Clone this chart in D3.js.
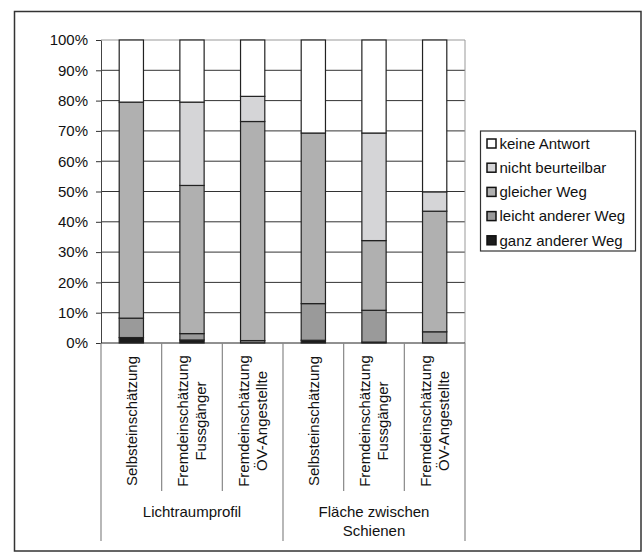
<!DOCTYPE html>
<html>
<head>
<meta charset="utf-8">
<script src="https://cdn.jsdelivr.net/npm/d3@7"></script>
<style>
  html, body { margin: 0; padding: 0; background: #fff; }
  text { font-family: "Liberation Sans", Arial, sans-serif; fill: #111; }
</style>
</head>
<body>
<div id="chart"></div>
<script>
// Chart data (percent of answers).
const categories = [
  "Selbsteinschätzung",
  "Fremdeinschätzung\nFussgänger",
  "Fremdeinschätzung\nÖV-Angestellte",
  "Selbsteinschätzung",
  "Fremdeinschätzung\nFussgänger",
  "Fremdeinschätzung\nÖV-Angestellte"
];
const groups = ["Lichtraumprofil", "Fläche zwischen\nSchienen"];
const groupSize = 3;

const seriesNames = ["ganz anderer Weg", "leicht anderer Weg", "gleicher Weg", "nicht beurteilbar", "keine Antwort"];
const ganzAnders = [1.8, 1.0, 0.0, 0.9, 0.3, 0.0];
const leichtAnders = [6.4, 2.1, 0.8, 12.1, 10.5, 3.7];
const gleicherWeg = [71.3, 48.9, 72.3, 56.3, 23.0, 39.8];
const nichtBeurteilbar = [0.0, 27.5, 8.3, 0.0, 35.5, 6.4];
const keineAntwort = [20.5, 20.5, 18.6, 30.7, 30.7, 50.1];
const yTicks = [0, 10, 20, 30, 40, 50, 60, 70, 80, 90, 100];

const seriesColors = ["#1c1c1c", "#9a9a9a", "#b0b0b0", "#d5d5d7", "#ffffff"];

// Dimensions
const width = 644;
const height = 552;
const marginLeft = 101;
const marginTop = 40;
const plotRight = 465;
const plotBottom = 343;

// build table for d3.stack
const values = [ganzAnders, leichtAnders, gleicherWeg, nichtBeurteilbar, keineAntwort];
const table = categories.map((c, i) => {
  const row = { idx: i };
  seriesNames.forEach((s, j) => (row[s] = values[j][i]));
  return row;
});
const stacked = d3.stack().keys(seriesNames)(table);

const x = d3
  .scaleBand()
  .domain(d3.range(categories.length))
  .range([marginLeft, plotRight])
  .paddingInner(0.6)
  .paddingOuter(0.3);

const y = d3.scaleLinear().domain([0, 100]).range([plotBottom, marginTop]);

const color = d3.scaleOrdinal().domain(seriesNames).range(seriesColors);

const svg = d3
  .select("#chart")
  .append("svg")
  .attr("width", width)
  .attr("height", height);

// outer frame
svg
  .append("rect")
  .attr("x", 14.5)
  .attr("y", 11.5)
  .attr("width", 626.5)
  .attr("height", 539.5)
  .attr("fill", "none")
  .attr("stroke", "#333")
  .attr("stroke-width", 1.5);

// horizontal grid lines
svg
  .append("g")
  .selectAll("line")
  .data(yTicks.filter((t) => t > 0))
  .join("line")
  .attr("x1", marginLeft)
  .attr("x2", plotRight)
  .attr("y1", (d) => y(d))
  .attr("y2", (d) => y(d))
  .attr("stroke", (d) => (d === 100 ? "#999" : "#333"))
  .attr("stroke-width", 1);

// right border of plot area
svg
  .append("line")
  .attr("x1", plotRight)
  .attr("x2", plotRight)
  .attr("y1", marginTop)
  .attr("y2", plotBottom)
  .attr("stroke", "#999");

// stacked bars
svg
  .append("g")
  .selectAll("g")
  .data(stacked)
  .join("g")
  .attr("fill", (d) => color(d.key))
  .selectAll("rect")
  .data((d) => d.filter((v) => v[1] - v[0] > 0))
  .join("rect")
  .attr("x", (d) => x(d.data.idx))
  .attr("width", x.bandwidth())
  .attr("y", (d) => y(d[1]))
  .attr("height", (d) => y(d[0]) - y(d[1]))
  .attr("stroke", "#222")
  .attr("stroke-width", 1.2);

// y axis
const yAxis = svg
  .append("g")
  .attr("transform", `translate(${marginLeft},0)`)
  .call(
    d3
      .axisLeft(y)
      .tickValues(yTicks)
      .tickFormat((d) => d + "%")
      .tickSize(5)
      .tickSizeOuter(0)
      .tickPadding(8)
  );
yAxis.select(".domain").attr("stroke", "#444");
yAxis.selectAll(".tick line").attr("stroke", "#333");
yAxis
  .selectAll(".tick text")
  .attr("font-size", 15)
  .attr("font-family", "Liberation Sans, Arial, sans-serif")
  .attr("fill", "#111");

// x axis baseline
svg
  .append("line")
  .attr("x1", marginLeft)
  .attr("x2", plotRight)
  .attr("y1", plotBottom)
  .attr("y2", plotBottom)
  .attr("stroke", "#222");

// category separators below the axis
const step = x.step();
const boundaries = d3.range(categories.length + 1).map((i) => marginLeft + i * step);
svg
  .append("g")
  .selectAll("line")
  .data(boundaries)
  .join("line")
  .attr("x1", (d) => d)
  .attr("x2", (d) => d)
  .attr("y1", plotBottom)
  .attr("y2", (d, i) => (i % groupSize === 0 ? 541 : 491))
  .attr("stroke", "#888")
  .attr("stroke-width", 1.2);

// rotated category labels
const catLabels = svg
  .append("g")
  .selectAll("text")
  .data(categories)
  .join("text")
  .attr("transform", (d, i) => `translate(${x(i) + x.bandwidth() / 2},421) rotate(-90)`)
  .attr("text-anchor", "middle")
  .attr("font-size", 15);
catLabels.each(function (d) {
  const lines = d.split("\n");
  const t = d3.select(this);
  lines.forEach((line, k) => {
    t.append("tspan")
      .attr("x", 0)
      .attr("y", (k - (lines.length - 1) / 2) * 18)
      .attr("dy", "0.35em")
      .text(line);
  });
});

// group labels
const groupLabels = svg
  .append("g")
  .selectAll("text")
  .data(groups)
  .join("text")
  .attr("text-anchor", "middle")
  .attr("font-size", 15)
  .attr("transform", (d, i) => {
    const cx = (boundaries[i * groupSize] + boundaries[(i + 1) * groupSize]) / 2;
    return `translate(${cx},512)`;
  });
groupLabels.each(function (d) {
  const t = d3.select(this);
  d.split("\n").forEach((line, k) => {
    t.append("tspan").attr("x", 0).attr("y", k * 19).attr("dy", "0.35em").text(line);
  });
});

// legend
const legendX = 480.5;
const legendY = 131;
const legend = svg.append("g");
legend
  .append("rect")
  .attr("x", legendX)
  .attr("y", legendY)
  .attr("width", 155)
  .attr("height", 120)
  .attr("fill", "#fff")
  .attr("stroke", "#333")
  .attr("stroke-width", 1.2);

const legendItems = seriesNames.slice().reverse();
const item = legend
  .selectAll("g")
  .data(legendItems)
  .join("g")
  .attr("transform", (d, i) => `translate(${legendX + 6},${legendY + 12.5 + i * 24.2})`);
item
  .append("rect")
  .attr("x", 0.5)
  .attr("y", -4.5)
  .attr("width", 9)
  .attr("height", 9)
  .attr("fill", (d) => color(d))
  .attr("stroke", "#111")
  .attr("stroke-width", 1.5);
item
  .append("text")
  .attr("x", 13)
  .attr("y", 0)
  .attr("dy", "0.35em")
  .attr("font-size", 15)
  .text((d) => d);
</script>
</body>
</html>
